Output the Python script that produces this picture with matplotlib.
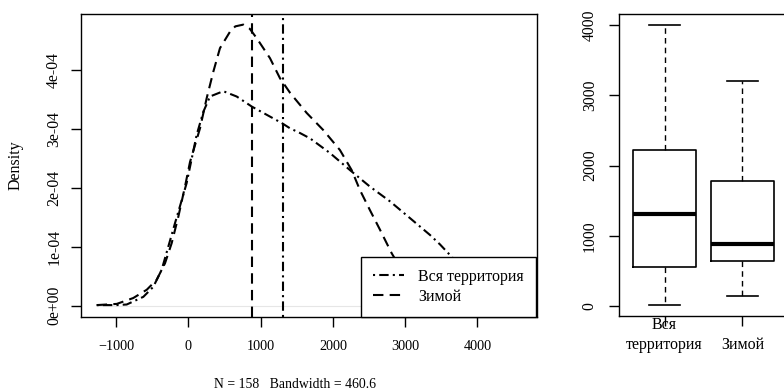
import matplotlib
matplotlib.use("Agg")
import matplotlib.pyplot as plt
from matplotlib.lines import Line2D

plt.rcParams['font.family'] = ['Liberation Serif', 'DejaVu Serif']
plt.rcParams['font.size'] = 10.6

# density curves (x in units, y in 1e-04)
all_x = [-1267, -990, -852, -622, -484, -368, -277, -184, -91, -23, 116, 208,
         300, 484, 669, 877, 1084, 1292, 1407, 1545, 1683, 1960, 2237, 2513,
         2790, 3043, 3159, 3343, 3481, 3665, 3900, 4200, 4590]
all_y = [0.01, 0.01, 0.02, 0.15, 0.32, 0.61, 1.00, 1.40, 1.79, 2.08, 2.90, 3.29,
         3.55, 3.64, 3.55, 3.38, 3.24, 3.10, 3.01, 2.93, 2.84, 2.59, 2.30, 2.02,
         1.77, 1.51, 1.39, 1.20, 1.04, 0.80, 0.45, 0.15, 0.01]

winter_x = [-1267, -990, -761, -575, -437, -322, -230, -138, -46, 24, 162, 254,
            346, 438, 577, 650, 761, 850, 946, 1130, 1268, 1409, 1638, 1867,
            2098, 2260, 2375, 2513, 2651, 2813, 3000, 3200, 3400, 3650]
winter_y = [0.01, 0.03, 0.13, 0.27, 0.44, 0.72, 1.06, 1.51, 2.02, 2.44, 3.01, 3.52,
            3.97, 4.37, 4.65, 4.74, 4.77, 4.70, 4.54, 4.20, 3.86, 3.61, 3.27, 2.98,
            2.64, 2.30, 1.96, 1.62, 1.29, 0.89, 0.50, 0.20, 0.06, 0.01]

median_all = 1306
median_winter = 880

# box plot stats
groups = ['Вся\nтерритория', 'Зимой']
whis_lo = [19, 138]
q1 = [551, 645]
med = [1310, 883]
q3 = [2216, 1779]
whis_hi = [4000, 3207]

legend_labels = ['Вся территория', 'Зимой']
xlabel_text = 'N = 158   Bandwidth = 460.6'
cyr_size = 11.5
rot_size = 11.3
x_size = 10.2

fig = plt.figure(figsize=(7.84, 3.9), dpi=100)

# ---- density plot ----
ax = fig.add_axes([81 / 784, 1 - 316.7 / 390, 456 / 784, 302.7 / 390])
ax.plot([all_x[0], all_x[-1]], [0, 0], color='#e6e6e6', lw=0.8, zorder=1)
dashdot = (0, (1, 2, 4.5, 2))
dashed = (0, (5, 3))
ax.plot(all_x, [v * 1e-4 for v in all_y], color='black', lw=1.5, ls=dashdot)
ax.plot(winter_x, [v * 1e-4 for v in winter_y], color='black', lw=1.5, ls=dashed)
ax.axvline(median_winter, color='black', lw=1.5, ls=dashed)
ax.axvline(median_all, color='black', lw=1.5, ls=dashdot)

ax.set_xlim(-1484, 4823)
ax.set_ylim(-0.187e-4, 4.95e-4)
ax.set_xticks([-1000, 0, 1000, 2000, 3000, 4000])
ax.set_xticklabels(['\u22121000', '0', '1000', '2000', '3000', '4000'],
                   fontsize=x_size)
yt = [0, 1e-4, 2e-4, 3e-4, 4e-4]
ax.set_yticks(yt)
ax.set_yticklabels(['0e+00', '1e-04', '2e-04', '3e-04', '4e-04'],
                   rotation=90, va='center', fontsize=rot_size)
ax.tick_params(direction='out', length=7.5, width=1)
ax.tick_params(axis='x', pad=9)
ax.tick_params(axis='y', pad=6)
ax.set_ylabel('Density', fontsize=cyr_size)
ax.yaxis.set_label_coords(-0.125, 0.5)
ax.set_xlabel(xlabel_text, fontsize=9.9)
ax.xaxis.set_label_coords((295 - 81) / 456, -0.202)
for s in ax.spines.values():
    s.set_linewidth(1.0)

handles = [Line2D([], [], color='black', lw=1.5, ls=dashdot),
           Line2D([], [], color='black', lw=1.5, ls=dashed)]
leg = ax.legend(handles, legend_labels, loc='lower right',
                bbox_to_anchor=(0.997, 0.0), borderaxespad=0, fancybox=False,
                framealpha=1, edgecolor='black', handlelength=1.9,
                handletextpad=0.9, borderpad=0.75, labelspacing=0.25,
                prop={'size': cyr_size})
leg.get_frame().set_linewidth(1.0)

# ---- box plot ----
bx = fig.add_axes([619.3 / 784, 1 - 316 / 390, 168.4 / 784, 302 / 390])
stats = []
for i in range(len(groups)):
    stats.append({'whislo': whis_lo[i], 'q1': q1[i], 'med': med[i],
                  'q3': q3[i], 'whishi': whis_hi[i], 'fliers': []})
bx.bxp(stats, positions=[1, 2], widths=0.8, showfliers=False,
       boxprops=dict(color='black', lw=1.2),
       medianprops=dict(color='black', lw=3),
       whiskerprops=dict(color='black', lw=1.0, ls=(0, (4, 3))),
       capprops=dict(color='black', lw=1.2),
       capwidths=0.4)
bx.set_xlim(0.42, 2.58)
bx.set_ylim(-142, 4157)
bx.set_yticks([0, 1000, 2000, 3000, 4000])
bx.set_yticklabels(['0', '1000', '2000', '3000', '4000'], rotation=90,
                   va='center', fontsize=rot_size)
bx.set_xticks([1, 2])
bx.set_xticklabels(['', ''])
bx.tick_params(direction='out', length=7.5, width=1)
bx.tick_params(axis='y', pad=8)
for i, g in enumerate(groups):
    bx.text(i + 1, -0.124, g, transform=bx.get_xaxis_transform(),
            ha='center', va='bottom', linespacing=1.35, fontsize=cyr_size)
for s in bx.spines.values():
    s.set_linewidth(1.0)

fig.savefig('out.png', dpi=100)
